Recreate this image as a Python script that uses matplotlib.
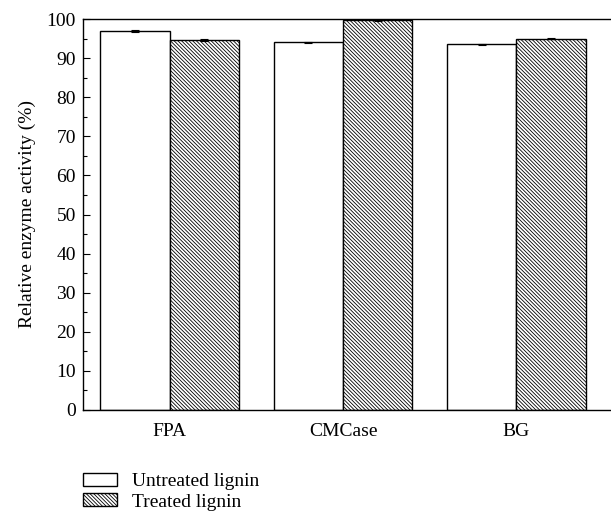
import matplotlib.pyplot as plt
import numpy as np

plt.rcParams['font.family'] = ['Liberation Serif', 'DejaVu Serif']
plt.rcParams['hatch.linewidth'] = 0.6

categories = ["FPA", "CMCase", "BG"]
untreated = [97.0, 94.0, 93.5]
treated = [94.7, 99.7, 95.0]
untreated_err = [0.2, 0.2, 0.2]
treated_err = [0.2, 0.2, 0.2]

fig = plt.figure(figsize=(6.11, 5.19), dpi=100)
ax = fig.add_axes([83/611, 1-410/519, 1-83/611, (410-19)/519])

x = np.arange(len(categories))
w = 0.4
ax.bar(x - w/2, untreated, w, yerr=untreated_err, capsize=3,
       color="white", edgecolor="black", linewidth=1.0,
       error_kw=dict(elinewidth=0.8, capthick=0.8), label="Untreated lignin")
ax.bar(x + w/2, treated, w, yerr=treated_err, capsize=3,
       color="white", edgecolor="black", linewidth=1.0, hatch="\\" * 9,
       error_kw=dict(elinewidth=0.8, capthick=0.8), label="Treated lignin")

ax.set_xlim(-0.5, 2.545)
ax.set_ylim(0, 100)
ax.set_yticks(np.arange(0, 101, 10))
ax.set_yticks(np.arange(5, 100, 10), minor=True)
ax.set_xticks(x)
ax.set_xticklabels(categories)
ax.tick_params(axis="y", direction="in", length=5, width=0.8, labelsize=14, pad=5)
ax.tick_params(axis="y", which="minor", direction="in", length=3, width=0.8)
ax.tick_params(axis="x", length=0, labelsize=14, pad=9)
ax.set_ylabel("Relative enzyme activity (%)", fontsize=14, labelpad=8)
ax.spines["right"].set_visible(False)
for s in ["left", "top", "bottom"]:
    ax.spines[s].set_linewidth(1.0)

fig.legend(loc="upper left", bbox_to_anchor=(83/611, 1-473/519), frameon=False,
           fontsize=14, handlelength=1.75, handleheight=0.65, labelspacing=0.15,
           handletextpad=0.75, borderpad=0, borderaxespad=0)

fig.savefig("out.png", dpi=100)
